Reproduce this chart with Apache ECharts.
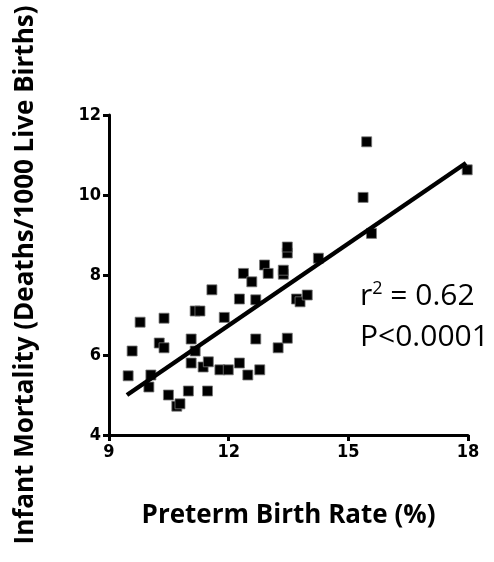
<!DOCTYPE html>
<html>
<head>
<meta charset="utf-8">
<script src="https://cdn.jsdelivr.net/npm/echarts@6/dist/echarts.min.js"></script>
<style>html,body{margin:0;padding:0;background:#fff}#c{width:494px;height:562px}</style>
</head>
<body>
<div id="c"></div>
<script>
var pretermRate = [9.48,9.58,9.78,10.0,10.05,10.26,10.38,10.38,10.49,10.7,10.78,10.99,11.06,11.16,11.06,11.16,11.28,11.36,11.49,11.47,11.58,11.78,11.89,11.99,12.27,12.27,12.37,12.48,12.58,12.68,12.68,12.78,12.9,12.99,13.24,13.47,13.47,13.37,13.37,13.7,13.79,13.97,14.25,13.47,15.46,15.37,15.58,17.98];
var infantMortality = [5.48,6.1,6.82,5.2,5.5,6.3,6.92,6.18,5.0,4.72,4.78,5.1,6.4,6.1,5.8,7.1,7.1,5.7,5.83,5.1,7.63,5.63,6.94,5.63,5.8,7.4,8.04,5.5,7.83,6.4,7.38,5.63,8.25,8.04,6.18,8.55,8.7,8.02,8.12,7.4,7.33,7.5,8.42,6.42,11.33,9.94,9.04,10.63];
var fitX = [9.45, 17.95];
var fitY = [5.0, 10.8];
var xTicks = [9, 12, 15, 18];
var yTicks = [4, 6, 8, 10, 12];

var pts = pretermRate.map(function(x,i){return [x, infantMortality[i]];});
var fit = fitX.map(function(x,i){return [x, fitY[i]];});

var chart = echarts.init(document.getElementById('c'));
var axisFont = {fontFamily:'Liberation Sans Narrow, DejaVu Sans Condensed', fontWeight:'bold', fontSize:18, color:'#000'};
var titleFont = {fontFamily:'Open Sans', fontWeight:'bold', fontSize:26, color:'#000'};
chart.setOption({
  animation:false,
  grid:{left:109, right:26, top:115, bottom:127},
  xAxis:{type:'value', min:9, max:18, interval:3,
    name:'Preterm Birth Rate (%)', nameLocation:'middle', nameGap:68,
    nameTextStyle:titleFont,
    axisLine:{lineStyle:{color:'#000', width:3}},
    axisTick:{show:true, length:6, lineStyle:{color:'#000', width:3}},
    axisLabel:Object.assign({margin:8, formatter:function(v){return xTicks.indexOf(v)>=0?String(v):'';}}, axisFont),
    splitLine:{show:false}},
  yAxis:{type:'value', min:4, max:12, interval:2,
    name:'Infant Mortality (Deaths/1000 Live Births)', nameLocation:'middle', nameGap:70,
    nameTextStyle:titleFont,
    axisLine:{lineStyle:{color:'#000', width:3}},
    axisTick:{show:true, length:6, lineStyle:{color:'#000', width:3}},
    axisLabel:Object.assign({margin:8, formatter:function(v){return yTicks.indexOf(v)>=0?String(v):'';}}, axisFont),
    splitLine:{show:false}},
  series:[
    {type:'scatter', data:pts, symbol:'rect', symbolSize:10,
      itemStyle:{color:'#000', opacity:1, borderColor:'#777', borderWidth:0.8}},
    {type:'line', data:fit, symbol:'none', lineStyle:{color:'#000', width:4.5}, z:3}
  ],
  graphic:[
    {type:'text', left:360, top:280, style:{
      rich:{a:{fontFamily:'Open Sans', fontSize:30, fill:'#000'}, s:{fontFamily:'Open Sans', fontSize:18, fill:'#000', verticalAlign:'top', padding:[0,0,14,0]}},
      text:'{a|r}{s|2}{a| = 0.62}'}},
    {type:'text', left:360, top:322, style:{text:'P<0.0001', fontFamily:'Open Sans', fontSize:30, fill:'#000'}}
  ]
});
</script>
</body>
</html>
